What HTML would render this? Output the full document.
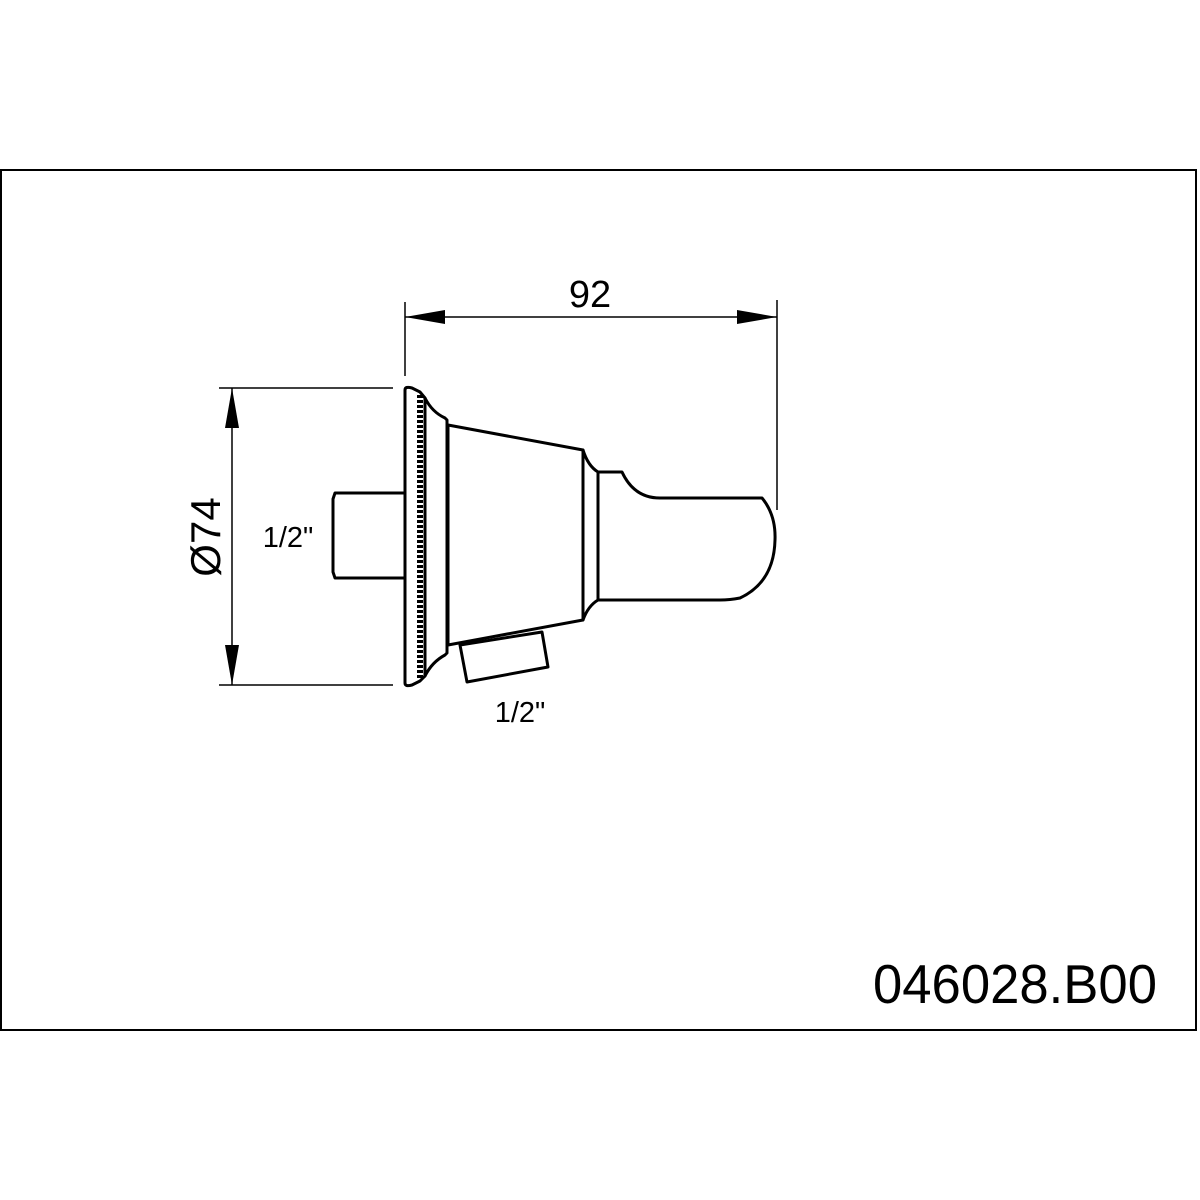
<!DOCTYPE html>
<html><head><style>html,body{margin:0;padding:0;background:#fff}svg{display:block}</style></head>
<body>
<svg width="1200" height="1200" viewBox="0 0 1200 1200" xmlns="http://www.w3.org/2000/svg" font-family="Liberation Sans, sans-serif">
<rect x="1" y="170" width="1195" height="860" fill="none" stroke="#000" stroke-width="2"/>
<g stroke="#000" stroke-width="1.5" fill="none">
<line x1="405" y1="302" x2="405" y2="376"/>
<line x1="777" y1="300" x2="777" y2="510"/>
<line x1="405" y1="317" x2="777" y2="317"/>
<line x1="219" y1="388" x2="393" y2="388"/>
<line x1="219" y1="685" x2="393" y2="685"/>
<line x1="232" y1="388" x2="232" y2="685"/>
</g>
<g fill="#000">
<polygon points="405,317 445,310 445,324"/>
<polygon points="777,317 737,310 737,324"/>
<polygon points="232,388 225,428 239,428"/>
<polygon points="232,685 225,645 239,645"/>
</g>
<g stroke="#000" stroke-width="3" fill="#fff" stroke-linejoin="round">
<path d="M335,493 L405,493 L405,578 L335,578 L333,572 L333,499 Z"/>
<path d="M405,390 Q405,386 412,388 L420,392 L425,398 L425,676 L420,681 L412,685 Q405,687 405,683 Z"/>
<path d="M425,398 Q432,412 445,418 L447,420 L447,653 L445,655 Q432,662 425,676 Z"/>
<path d="M448,425 L583,450 L583,620 L448,645 Z"/>
<path d="M460,645 L542,632 L548,667 L467,682 Z"/>
<path d="M583,450 Q588,466 598,472 L598,600 Q588,606 583,620 Z"/>
<path d="M598,472 L622,472 Q634,498 660,498 L762,498 Q776,515 775,540 Q774,582 740,598 Q730,600 720,600 L598,600 Z"/>
</g>
<line x1="420" y1="395" x2="420" y2="680" stroke="#000" stroke-width="6" stroke-dasharray="3,2"/>
<g fill="#000">
<text x="590" y="307" font-size="38" text-anchor="middle">92</text>
<text x="288" y="547" font-size="29" text-anchor="middle">1/2"</text>
<text x="520" y="722" font-size="29" text-anchor="middle">1/2"</text>
<text transform="translate(220,537) rotate(-90)" font-size="42" text-anchor="middle">Ø74</text>
<text x="873" y="1003" font-size="55" textLength="284" lengthAdjust="spacingAndGlyphs">046028.B00</text>
</g>
</svg>
</body></html>
